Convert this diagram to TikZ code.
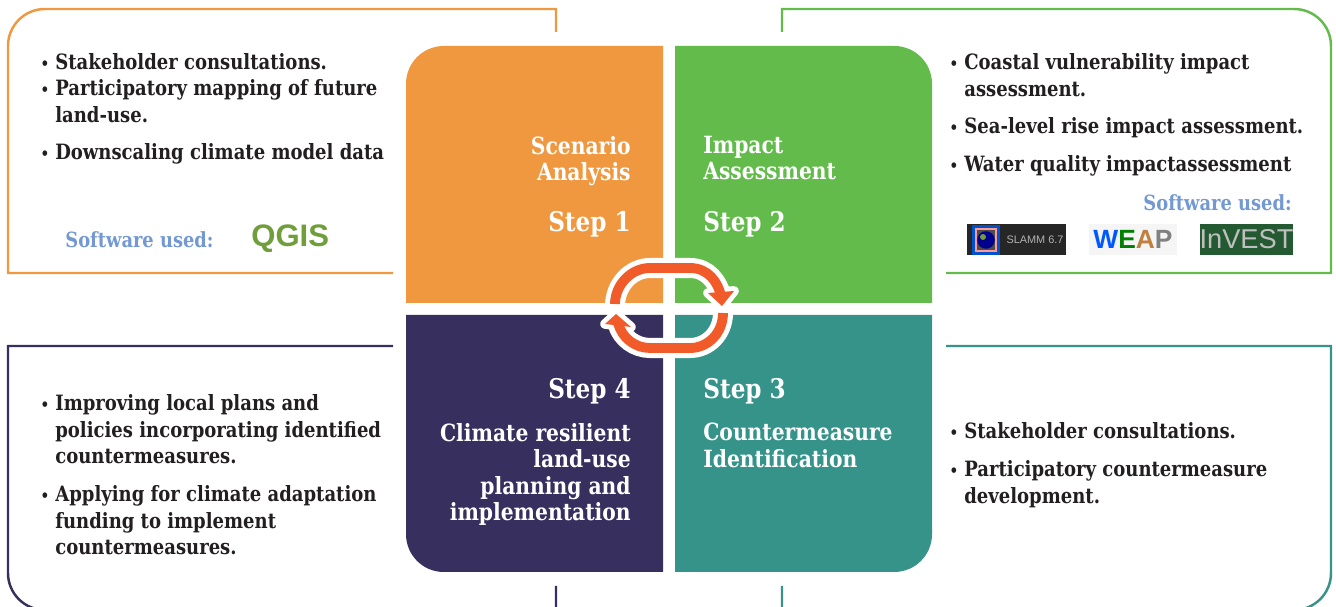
\documentclass[tikz,border=0pt]{standalone}
\usepackage{fontspec}
\setmainfont{DejaVu Serif Condensed}[BoldFont={DejaVu Serif Condensed Bold},BoldFeatures={FakeStretch=0.95}]
\newfontfamily\logofont{Liberation Sans}
\usetikzlibrary{positioning}
\definecolor{orangeStep}{HTML}{F0983F}
\definecolor{greenStep}{HTML}{62BB4B}
\definecolor{tealStep}{HTML}{35938A}
\definecolor{purpleStep}{HTML}{372F5E}
\definecolor{softwareBlue}{HTML}{7398D2}
\definecolor{textGray}{HTML}{231F20}
\definecolor{cycleRed}{HTML}{F15A29}
\definecolor{qgisGreen}{HTML}{6F9E3A}
\definecolor{investGreen}{HTML}{245A32}
\newcommand{\bul}{\llap{{\fontsize{9}{9}\selectfont\textbullet}\hspace{3.5pt}}}
\tikzset{
  frame/.style={line width=1.4pt},
  bullet/.style={anchor=north west, inner sep=0pt, align=left, text=textGray,
    font=\fontsize{12}{15}\selectfont\bfseries},
  steptitle/.style={inner sep=0pt, text=white, font=\fontsize{13.5}{15}\selectfont\bfseries},
  stepnum/.style={anchor=base, inner sep=0pt, text=white, font=\fontsize{15.4}{18}\selectfont\bfseries},
  software/.style={anchor=base west, inner sep=0pt, text=softwareBlue, font=\fontsize{11.9}{14}\selectfont\bfseries},
  logo/.style={anchor=center, inner sep=0pt, font=\logofont\bfseries},
  cyclehead/.style={fill=cycleRed, preaction={draw=white, line width=5.5pt, line join=round}}
}
\begin{document}
\begin{tikzpicture}[x=0.02cm, y=-0.02cm]
    \useasboundingbox (0,0) rectangle (1336,607);
    \clip (0,0) rectangle (1336,607);
    % outer frames
    \draw[frame, orangeStep] (556,32) -- (556,9) [rounded corners=21pt] -- (8,9) [rounded corners=0pt] -- (8,273) -- (393,273);
    \draw[frame, greenStep] (782,32) -- (782,9) [rounded corners=21pt] -- (1331,9) [rounded corners=0pt] -- (1331,273) -- (946,273);
    \draw[frame, purpleStep] (393,346) -- (8,346) [rounded corners=21pt] -- (8,610) [rounded corners=0pt] -- (556,610) -- (556,586);
    \draw[frame, tealStep] (946,346) -- (1331,346) [rounded corners=21pt] -- (1331,610) [rounded corners=0pt] -- (782,610) -- (782,586);
    % the four quadrants
    \fill[orangeStep] (663,303) -- (406,303) [rounded corners=21.5pt] -- (406,46) [rounded corners=0pt] -- (663,46) -- cycle;
    \fill[greenStep] (675,303) -- (932,303) [rounded corners=21.5pt] -- (932,46) [rounded corners=0pt] -- (675,46) -- cycle;
    \fill[purpleStep] (663,315) -- (406,315) [rounded corners=21.5pt] -- (406,572) [rounded corners=0pt] -- (663,572) -- cycle;
    \fill[tealStep] (675,315) -- (932,315) [rounded corners=21.5pt] -- (932,572) [rounded corners=0pt] -- (675,572) -- cycle;
    % cycle arrows
    \draw[white, line width=11.4pt] (615,306) .. controls (615,285) and (631,268) .. (650,268) -- (690,268) .. controls (708,268) and (718,282) .. (722,298);
    \draw[white, line width=11.4pt] (723,313) .. controls (723,333) and (708,348) .. (690,348) -- (650,348) .. controls (635,348) and (622,338) .. (618,325);
    \path[cyclehead] (708,293) -- (734,291) -- (722,306) -- cycle;
    \path[cyclehead] (605,324) -- (631,327) -- (616,314) -- cycle;
    \draw[cycleRed, line width=5.6pt] (615,304) .. controls (615,285) and (631,268) .. (650,268) -- (690,268) .. controls (708,268) and (718,282) .. (721,296);
    \draw[cycleRed, line width=5.6pt] (723,313) .. controls (723,333) and (708,348) .. (690,348) -- (650,348) .. controls (635,348) and (622,338) .. (618,323);
    % step labels
    \node[steptitle, anchor=north east, align=right] (scenario) at (631,136) {Scenario\\Analysis};
    \node[stepnum, anchor=base east] (stepone) at (631,232) {Step 1};
    \node[steptitle, anchor=north west, align=left] (impact) at (703,136) {Impact\\Assessment};
    \node[stepnum, anchor=base west] (steptwo) at (703,232) {Step 2};
    \node[stepnum, anchor=base west] (stepthree) at (703,399) {Step 3};
    \node[steptitle, anchor=north west, align=left] (counter) at (703,423) {Countermeasure\\Identification};
    \node[stepnum, anchor=base east] (stepfour) at (631,399) {Step 4};
    \node[steptitle, anchor=north east, align=right] (resilient) at (631,423) {Climate resilient\\land-use\\planning and\\implementation};
    % scenario analysis notes
    \node[bullet] (stakeA) at (55,53) {\bul Stakeholder consultations.};
    \node[bullet] (mapping) at (55,79.5) {\bul Participatory mapping of future\\land-use.};
    \node[bullet] (downscale) at (55,143.5) {\bul Downscaling climate model data};
    \node[software] (softA) at (65,248) {Software used:};
    \node[logo, anchor=base west, text=qgisGreen, font=\logofont\bfseries\fontsize{17.7}{18}\selectfont] (qgis) at (251,247) {QGIS};
    % impact assessment notes
    \node[bullet] (coastal) at (964,53.5) {\bul Coastal vulnerability impact\\assessment.};
    \node[bullet] (sealevel) at (964,117.5) {\bul Sea-level rise impact assessment.};
    \node[bullet] (water) at (964,155) {\bul Water quality impactassessment};
    \node[software, anchor=base east] (softB) at (1292,211) {Software used:};
    \node[logo, fill=black!85, minimum width=56pt, minimum height=17.5pt, text=white!70!black, font=\logofont\fontsize{6.2}{7}\selectfont] (slamm) at (1016.5,239.5) {\hspace{21pt}SLAMM 6.7};
    \fill[blue!60!cyan!80!black] (972,225) rectangle (1000,255);
    \draw[white!60!red, line width=0.7pt, fill=black!70] (976,229) rectangle (996,251);
    \fill[blue!55!black] (986,240) circle (5pt);
    \fill[qgisGreen] (983,237) circle (1.7pt);
    \node[logo, fill=black!4, minimum width=50pt, minimum height=17.5pt, font=\logofont\bfseries\fontsize{15}{15}\selectfont] (weap) at (1133,239.5) {\textcolor{blue!65!cyan}{W}\textcolor{green!50!black}{E}\textcolor{brown}{A}\textcolor{gray}{P}};
    \node[logo, fill=investGreen, minimum width=51.6pt, minimum height=17.5pt, text=white!75!black, font=\logofont\fontsize{15.5}{16}\selectfont] (invest) at (1246.5,239.5) {InVEST};
    % countermeasure notes
    \node[bullet] (stakeB) at (964,422.5) {\bul Stakeholder consultations.};
    \node[bullet] (counterdev) at (964,460.5) {\bul Participatory countermeasure\\development.};
    % land-use planning notes
    \node[bullet] (plans) at (55,394.5) {\bul Improving local plans and\\policies incorporating identified\\countermeasures.};
    \node[bullet] (funding) at (55,485.5) {\bul Applying for climate adaptation\\funding to implement\\countermeasures.};
  \end{tikzpicture}
\end{document}
